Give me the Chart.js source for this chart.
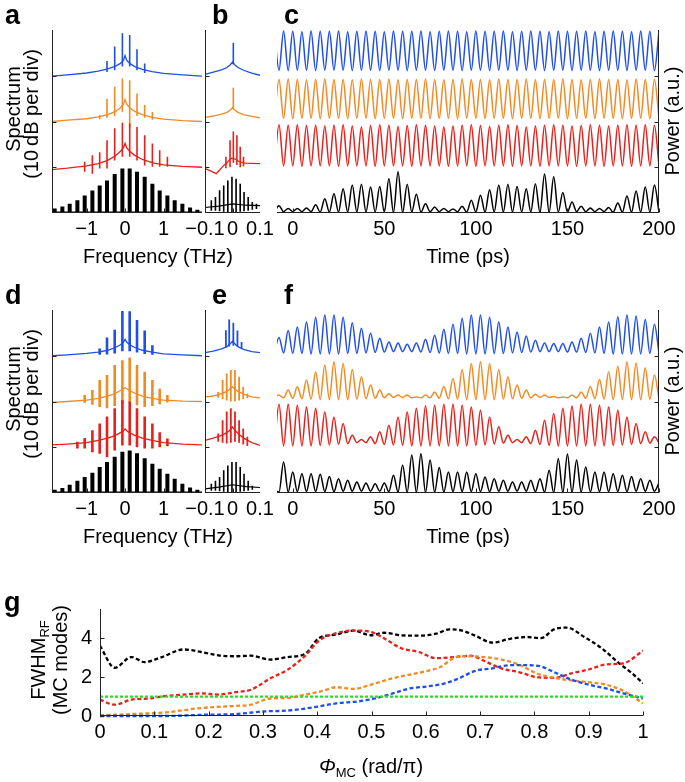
<!DOCTYPE html>
<html><head><meta charset="utf-8">
<script src="https://cdn.jsdelivr.net/npm/chart.js@4.4.0/dist/chart.umd.min.js"></script>
<style>
body{margin:0;width:685px;height:782px;background:#fff;position:relative;overflow:hidden;font-family:"Liberation Sans",Arial,sans-serif;}
canvas{position:absolute;}
.t{position:absolute;color:#000;white-space:nowrap;font-size:20px;line-height:20px;transform:translate(-50%,-50%);}
.r{transform:translate(-50%,-50%) rotate(-90deg);}
.L{position:absolute;font-weight:bold;font-size:27px;line-height:27px;color:#000;}
sub{font-size:13px;vertical-align:-4px;line-height:0;}
</style></head><body>
<script>
// ---------------- DATA ----------------
const F20 = [-1.83,-1.63,-1.44,-1.24,-1.05,-0.85,-0.66,-0.47,-0.27,-0.07,0.12,0.31,0.51,0.71,0.9,1.1,1.29,1.49,1.69,1.88];
const specF = [-1.9,-1.5,-1.0,-0.7,-0.45,-0.25,-0.12,-0.04,0,0.04,0.12,0.25,0.45,0.7,1.0,1.5,2.0];
const aTicks = [-1,0,1];
const bTicks = [-0.1,0,0.1];
const cTicks = [0,50,100,150,200];
const levelTicks = [1,2,3];

// panel a
const aBlueBase = [2.99,3.02,3.06,3.1,3.15,3.21,3.27,3.34,3.44,3.34,3.27,3.2,3.14,3.09,3.05,3.02,2.99];
const aBlueSpF = [-0.47,-0.27,-0.07,0.12,0.31,0.51];
const aBlueSpHi = [3.32,3.64,3.93,3.89,3.58,3.27];
const aBlueSpLo = [3.08,3.12,3.2,3.2,3.12,3.06];
const aOrBase = [2.0,2.03,2.06,2.1,2.15,2.22,2.3,2.38,2.48,2.38,2.3,2.22,2.15,2.09,2.05,2.02,2.0];
const aOrSpF = [-0.66,-0.47,-0.27,-0.07,0.12,0.31,0.51,0.71];
const aOrSpHi = [2.14,2.5,2.76,2.94,2.9,2.61,2.36,2.21];
const aOrSpLo = [2.05,2.08,2.12,2.2,1.87,2.12,2.08,2.04];
const aRedBase = [0.95,0.98,1.03,1.08,1.15,1.25,1.35,1.43,1.52,1.43,1.35,1.26,1.17,1.1,1.05,1.02,1.0];
const aRedSpF = [-1.05,-0.85,-0.66,-0.47,-0.27,-0.07,0.12,0.31,0.51,0.71,0.9,1.1];
const aRedSpHi = [1.12,1.26,1.33,1.59,1.85,1.97,1.96,1.88,1.7,1.52,1.37,1.23];
const aRedSpLo = [0.9,0.86,0.97,0.97,1.15,1.23,1.23,1.15,1.04,1.01,1.01,1.01];
const aBlackHi = [0.1,0.14,0.2,0.28,0.38,0.49,0.6,0.71,0.85,0.97,0.97,0.9,0.79,0.64,0.49,0.38,0.28,0.2,0.12,0.07];
const blackLo20 = [0.01,0.01,0.01,0.01,0.01,0.01,0.01,0.01,0.01,0.01,0.01,0.01,0.01,0.01,0.01,0.01,0.01,0.01,0.01,0.01];
const floorF = [-1.9,2.0];
const floorV = [0.02,0.02];

// panel d
const dBlueBase = [3.0,3.02,3.05,3.08,3.12,3.18,3.24,3.3,3.36,3.3,3.24,3.18,3.12,3.08,3.04,3.02,3.0];
const dBlueSpF = [-0.66,-0.47,-0.27,-0.07,0.12,0.31,0.51,0.71];
const dBlueSpHi = [3.16,3.40,3.57,3.98,3.97,3.78,3.55,3.23];
const dBlueSpLo = [3.02,3.03,3.05,3.1,3.1,3.07,3.04,3.02];
const dOrBase = [1.98,2.0,2.03,2.07,2.12,2.18,2.24,2.28,2.3,2.28,2.24,2.18,2.12,2.07,2.03,2.01,2.0];
const dOrSpF = [-1.05,-0.85,-0.66,-0.47,-0.27,-0.07,0.12,0.31,0.51,0.71,0.9,1.1];
const dOrSpHi = [2.14,2.25,2.47,2.58,2.8,2.9,2.96,2.8,2.65,2.47,2.28,2.14];
const dOrSpLo = [1.97,1.93,1.88,1.85,1.9,1.95,1.98,1.92,1.88,1.9,1.94,1.98];
const dRedBase = [1.05,1.07,1.1,1.15,1.2,1.26,1.32,1.36,1.4,1.36,1.32,1.26,1.2,1.15,1.1,1.07,1.05];
const dRedSpF = [-1.24,-1.05,-0.85,-0.66,-0.47,-0.27,-0.07,0.12,0.31,0.51,0.71,0.9,1.1];
const dRedSpHi = [1.12,1.2,1.37,1.52,1.67,1.85,2.03,2.0,1.85,1.67,1.52,1.33,1.19];
const dRedSpLo = [0.97,0.97,0.89,0.86,0.78,0.93,1.04,1.04,1.0,0.97,0.97,1.0,1.02];
const dBlackHi = [0.07,0.11,0.18,0.27,0.35,0.44,0.57,0.68,0.79,0.9,0.93,0.87,0.76,0.64,0.53,0.42,0.31,0.2,0.12,0.07];

// panels b & e (zoom, THz)
const bF = [-0.1,-0.07,-0.04,-0.02,-0.008,0,0.008,0.02,0.04,0.07,0.1];
const bBlueBase = [3.03,3.08,3.13,3.18,3.24,3.3,3.24,3.18,3.12,3.06,3.01];
const bOrBase = [2.09,2.12,2.16,2.2,2.25,2.3,2.25,2.2,2.15,2.11,2.08];
const bCenterF = [0.003];
const bBlueSpHi = [3.72], bBlueSpLo = [3.25];
const bOrSpHi = [2.74], bOrSpLo = [2.28];
const bRedF = [-0.1,-0.08,-0.059,-0.045,-0.032,-0.02,-0.005,0.01,0.025,0.046,0.07,0.1];
const bRedBase = [0.97,0.92,0.86,0.95,1.04,1.1,1.2,1.18,1.12,1.09,1.085,1.08];
const bRedSpF = [-0.024,-0.009,0.003,0.016,0.028,0.04];
const bRedSpHi = [1.23,1.59,1.78,1.7,1.45,1.23];
const bRedSpLo = [0.98,1.0,1.1,1.05,1.0,1.02];
const bBlackF = [-0.1,-0.05,0,0.05,0.1];
const bBlackFloor = [0.12,0.15,0.2,0.17,0.16];
const bBlackSpF = [-0.077,-0.062,-0.047,-0.032,-0.017,-0.002,0.013,0.028,0.042,0.057,0.072,0.087];
const bBlackSpHi = [0.28,0.35,0.5,0.6,0.71,0.79,0.75,0.64,0.46,0.35,0.24,0.2];
const bBlackSpLo = [0.05,0.05,0.04,0.03,0.02,0.02,0.02,0.03,0.04,0.05,0.07,0.09];

const eBlueBase = [3.07,3.1,3.15,3.2,3.26,3.32,3.26,3.2,3.14,3.09,3.07];
const eBlueSpF = [-0.024,-0.012,0.003,0.018,0.033];
const eBlueSpHi = [3.56,3.79,3.72,3.55,3.3];
const eBlueSpLo = [3.18,3.2,3.22,3.2,3.15];
const eSpF = [-0.052,-0.036,-0.021,-0.006,0.009,0.024,0.039,0.054];
const eOrBase = [2.1,2.12,2.17,2.22,2.28,2.32,2.28,2.22,2.16,2.1,2.08];
const eOrSpHi = [2.21,2.47,2.61,2.69,2.69,2.54,2.32,2.17];
const eOrSpLo = [2.08,2.05,2.02,2.0,2.0,2.02,2.05,2.07];
const eRedBase = [1.15,1.2,1.26,1.32,1.38,1.44,1.38,1.3,1.2,1.1,1.04];
const eRedSpHi = [1.3,1.59,1.78,1.85,1.78,1.59,1.41,1.23];
const eRedSpLo = [1.12,1.1,1.08,1.1,1.12,1.1,1.06,1.03];
const eBlackFloor = [0.09,0.13,0.18,0.14,0.12];
const eBlackSpHi = [0.2,0.27,0.35,0.5,0.6,0.68,0.68,0.57,0.42,0.27,0.16,0.09];

// time traces (ps) – peaks and troughs
const tGrid = [-10,-7.5,-5,-2.5,0,2.5,5,7.5,10,12.5,
15,17.5,20,22.5,25,27.5,30,32.5,35,37.5,
40,42.5,45,47.5,50,52.5,55,57.5,60,62.5,
65,67.5,70,72.5,75,77.5,80,82.5,85,87.5,
90,92.5,95,97.5,100,102.5,105,107.5,110,112.5,
115,117.5,120,122.5,125,127.5,130,132.5,135,137.5,
140,142.5,145,147.5,150,152.5,155,157.5,160,162.5,
165,167.5,170,172.5,175,177.5,180,182.5,185,187.5,
190,192.5,195,197.5,200];

const cBlue = [3.97,3.12,3.98,3.11,3.97,3.12,3.96,3.12,3.98,3.11,
3.97,3.12,3.97,3.12,3.98,3.12,3.96,3.11,3.97,3.12,
3.98,3.12,3.97,3.11,3.96,3.12,3.98,3.12,3.97,3.11,
3.97,3.12,3.98,3.12,3.96,3.11,3.97,3.12,3.98,3.12,
3.97,3.11,3.96,3.12,3.98,3.12,3.97,3.11,3.97,3.12,
3.98,3.12,3.96,3.11,3.97,3.12,3.98,3.12,3.97,3.11,
3.96,3.12,3.98,3.12,3.97,3.11,3.97,3.12,3.98,3.12,
3.96,3.11,3.97,3.12,3.98,3.12,3.97,3.11,3.96,3.12,
3.98,3.12,3.97,3.11,3.97];
const cOrange = [2.07,2.92,2.07,2.93,2.06,2.92,2.07,2.91,2.07,2.92,
2.06,2.93,2.07,2.92,2.07,2.92,2.06,2.91,2.07,2.93,
2.07,2.92,2.06,2.92,2.07,2.93,2.07,2.91,2.06,2.92,
2.07,2.92,2.07,2.93,2.06,2.92,2.07,2.91,2.07,2.92,
2.06,2.93,2.07,2.92,2.07,2.92,2.06,2.91,2.07,2.93,
2.07,2.92,2.06,2.92,2.07,2.93,2.07,2.91,2.06,2.92,
2.07,2.92,2.07,2.93,2.06,2.92,2.07,2.91,2.07,2.92,
2.06,2.93,2.07,2.92,2.07,2.92,2.06,2.91,2.07,2.93,
2.07,2.92,2.06,2.92,2.07];
const cRed = [1.03,1.93,1.03,1.92,1.03,1.93,1.02,1.91,1.03,1.92,
1.03,1.9,1.03,1.92,1.02,1.93,1.03,1.9,1.03,1.88,
1.03,1.91,1.02,1.93,1.03,1.92,1.03,1.89,1.03,1.91,
1.02,1.93,1.03,1.92,1.03,1.9,1.03,1.88,1.02,1.9,
1.03,1.92,1.03,1.93,1.02,1.91,1.03,1.89,1.03,1.92,
1.03,1.93,1.02,1.91,1.03,1.88,1.03,1.9,1.02,1.92,
1.03,1.93,1.03,1.92,1.03,1.9,1.02,1.91,1.03,1.93,
1.03,1.92,1.02,1.9,1.03,1.92,1.03,1.93,1.02,1.92,
1.03,1.93,1.03,1.92,1.03];
const cBlack = [0.03,0.16,0.03,0.1,0.03,0.1,0.03,0.11,0.03,0.18,
0.02,0.31,0.02,0.42,0.02,0.53,0.02,0.61,0.02,0.63,
0.02,0.57,0.02,0.58,0.02,0.75,0.01,0.9,0.01,0.63,
0.02,0.41,0.02,0.2,0.03,0.13,0.03,0.1,0.03,0.09,
0.03,0.15,0.02,0.28,0.02,0.39,0.02,0.51,0.02,0.61,
0.02,0.63,0.02,0.58,0.02,0.53,0.02,0.64,0.01,0.85,
0.01,0.79,0.02,0.45,0.02,0.24,0.03,0.15,0.03,0.11,
0.03,0.1,0.03,0.12,0.02,0.22,0.02,0.37,0.02,0.48,
0.02,0.57,0.02,0.61,0.02];

const fBlue = [3.08,3.40,3.06,3.55,3.05,3.63,3.05,3.74,3.04,3.84,
3.04,3.89,3.04,3.89,3.04,3.84,3.05,3.72,3.05,3.60,
3.06,3.49,3.07,3.38,3.08,3.30,3.09,3.28,3.09,3.25,
3.09,3.28,3.08,3.36,3.07,3.45,3.06,3.58,3.05,3.69,
3.05,3.82,3.04,3.89,3.04,3.89,3.04,3.84,3.05,3.74,
3.05,3.63,3.06,3.52,3.07,3.43,3.08,3.34,3.09,3.28,
3.09,3.27,3.09,3.27,3.08,3.30,3.08,3.38,3.07,3.49,
3.06,3.63,3.05,3.74,3.04,3.85,3.04,3.89,3.04,3.87,
3.04,3.79,3.05,3.69,3.05];
const fOrange = [2.1,2.14,2.08,2.25,2.07,2.32,2.06,2.47,2.05,2.65,
2.04,2.79,2.04,2.87,2.04,2.83,2.04,2.70,2.05,2.54,
2.06,2.36,2.07,2.25,2.08,2.17,2.09,2.14,2.09,2.14,
2.08,2.10,2.08,2.14,2.08,2.21,2.07,2.33,2.06,2.50,
2.05,2.70,2.04,2.83,2.04,2.87,2.04,2.83,2.04,2.70,
2.05,2.54,2.06,2.36,2.07,2.25,2.08,2.16,2.09,2.14,
2.09,2.11,2.08,2.10,2.08,2.14,2.08,2.21,2.07,2.33,
2.06,2.48,2.05,2.65,2.04,2.77,2.04,2.87,2.04,2.84,
2.04,2.74,2.05,2.58,2.06];
const fRed = [1.03,1.94,1.03,1.94,1.03,1.92,1.03,1.88,1.03,1.85,
1.04,1.77,1.05,1.66,1.06,1.52,1.08,1.26,1.1,1.17,
1.1,1.23,1.08,1.34,1.06,1.48,1.05,1.66,1.04,1.77,
1.03,1.85,1.03,1.90,1.03,1.92,1.03,1.94,1.03,1.94,
1.03,1.92,1.03,1.88,1.04,1.81,1.05,1.66,1.07,1.45,
1.09,1.26,1.1,1.17,1.1,1.23,1.08,1.37,1.06,1.59,
1.04,1.74,1.03,1.85,1.03,1.90,1.03,1.94,1.03,1.94,
1.03,1.92,1.03,1.88,1.04,1.81,1.05,1.66,1.06,1.52,
1.08,1.34,1.09,1.23,1.1];
const fBlack = [0.05,0.02,0.68,0.02,0.46,0.03,0.42,0.03,0.42,0.03,
0.41,0.03,0.36,0.03,0.31,0.04,0.28,0.04,0.24,0.04,
0.22,0.04,0.20,0.04,0.22,0.03,0.39,0.02,0.61,0.01,
0.83,0.01,0.86,0.01,0.72,0.02,0.56,0.02,0.46,0.03,
0.46,0.03,0.46,0.03,0.42,0.03,0.35,0.03,0.31,0.04,
0.28,0.04,0.24,0.04,0.24,0.04,0.28,0.03,0.31,0.02,
0.50,0.01,0.75,0.01,0.85,0.01,0.72,0.02,0.57,0.02,
0.46,0.03,0.46,0.03,0.42,0.03,0.39,0.03,0.36,0.04,
0.31,0.04,0.28,0.04,0.22];

// panel g
const gTicksX = [0,0.1,0.2,0.3,0.4,0.5,0.6,0.7,0.8,0.9,1];
const gTicksY = [0,2,4];
const gBlackPhi = [0,0.027,0.058,0.082,0.114,0.154,0.186,0.218,0.25,0.278,0.314,0.346,0.378,0.403,0.435,0.467,0.499,0.523,0.555,0.587,0.619,0.643,0.667,0.691,0.723,0.755,0.787,0.812,0.836,0.86,0.892,0.924,0.956,0.98,1.0];
const gBlackV = [3.61,2.48,3.03,2.77,3.03,3.42,3.29,3.12,3.07,3.1,2.9,3.03,3.2,4.0,4.19,4.39,4.15,4.28,4.15,4.13,4.23,4.45,4.39,4.13,3.77,3.97,4.06,4.0,4.45,4.54,4.06,3.48,2.71,2.19,1.68];
const gRedPhi = [0,0.027,0.058,0.09,0.122,0.154,0.186,0.218,0.25,0.278,0.314,0.346,0.378,0.403,0.435,0.467,0.499,0.523,0.555,0.587,0.619,0.651,0.683,0.707,0.739,0.771,0.804,0.836,0.868,0.9,0.932,0.964,1.0];
const gRedV = [0.84,0.58,0.84,0.9,1.03,1.1,1.16,1.1,1.23,1.35,1.94,2.39,3.1,3.87,4.26,4.39,4.32,4.0,3.48,3.29,2.97,3.03,3.1,2.84,2.45,2.26,2.0,1.96,2.19,2.39,2.65,2.71,3.35];
const gOrangePhi = [0,0.058,0.122,0.186,0.25,0.278,0.314,0.346,0.378,0.41,0.435,0.467,0.499,0.539,0.571,0.603,0.627,0.651,0.675,0.707,0.739,0.771,0.804,0.836,0.868,0.9,0.932,0.964,1.0];
const gOrangeV = [0.03,0.1,0.19,0.41,0.52,0.58,0.9,0.93,1.1,1.29,1.48,1.39,1.61,1.94,2.13,2.32,2.52,2.97,3.07,3.03,2.9,2.65,2.19,1.96,1.83,1.74,1.61,1.29,0.65];
const gBluePhi = [0,0.122,0.186,0.25,0.298,0.346,0.394,0.435,0.475,0.507,0.539,0.571,0.603,0.635,0.659,0.691,0.723,0.755,0.787,0.812,0.836,0.868,0.9,0.932,0.964,1.0];
const gBlueV = [0,0,0.06,0.1,0.23,0.28,0.45,0.65,0.75,0.9,1.16,1.42,1.52,1.68,1.91,2.32,2.45,2.61,2.61,2.55,2.26,1.87,1.61,1.42,1.16,0.9];
const gGreenPhi = [0,1];
const gGreenV = [1,1];

// ---------------- DRAWING ----------------
Chart.defaults.font.family = '"Liberation Sans", Arial, sans-serif';
Chart.defaults.color = '#000';
const COL = {blue:'#1f4fe8', orange:'#f28a24', red:'#e8201c', black:'#000000', green:'#22e022'};

const framePlugin = {id:'frame', afterDatasetsDraw(chart, args, o){
  const ctx = chart.ctx, a = chart.chartArea, x = chart.scales.x, y = chart.scales.y;
  ctx.save(); ctx.strokeStyle = o.color || '#222'; ctx.lineWidth = 1; ctx.beginPath();
  const L = Math.round(a.left)+0.5, R = Math.round(a.right)-0.5, B = Math.round(a.bottom)-0.5;
  if (o.left){ ctx.moveTo(L, a.top); ctx.lineTo(L, a.bottom); }
  if (o.right){ ctx.moveTo(R, a.top); ctx.lineTo(R, a.bottom); }
  if (o.bottom){ ctx.moveTo(a.left, B); ctx.lineTo(a.right, B); }
  (o.yt||[]).forEach(v => { const py = Math.round(y.getPixelForValue(v))+0.5;
    if (o.left){ ctx.moveTo(L, py); ctx.lineTo(L+4, py); }
    if (o.right){ ctx.moveTo(R, py); ctx.lineTo(R-4, py); } });
  (o.xt||[]).forEach(v => { const px = Math.round(x.getPixelForValue(v))+0.5;
    ctx.moveTo(px, B); ctx.lineTo(px, B-4); });
  ctx.stroke(); ctx.restore();
}};

function pts(xs, ys){ return xs.map((x,i)=>({x:x, y:ys[i]})); }
function spk(xs, lo, hi){ const d=[]; xs.forEach((x,i)=>{ d.push({x:x,y:lo[i]},{x:x,y:hi[i]},{x:x,y:null}); }); return d; }
function ds(data, color, w, extra){ return Object.assign({data:data, borderColor:color, borderWidth:w, pointRadius:0, tension:0, spanGaps:false, fill:false, borderCapStyle:'butt', clip:{left:0,right:0,top:3,bottom:3}}, extra||{}); }
function wave(ys, color){ return ds(pts(tGrid, ys), color, 1.5, {cubicInterpolationMode:'monotone'}); }
function fmt(v){ return (v<0?'\u2212':'') + Math.abs(v); }

function panel(area, xmin, xmax, xticks, ymax, datasets, frame, yopts){
  const ML = yopts ? yopts.ml : 30, MR = 30, MT = 4, MB = 40;
  const W = area.r - area.l + ML + MR, H = area.b - area.t + MT + MB;
  const cv = document.createElement('canvas');
  cv.width = W; cv.height = H;
  cv.style.left = (area.l - ML) + 'px'; cv.style.top = (area.t - MT) + 'px';
  cv.style.width = W + 'px'; cv.style.height = H + 'px';
  document.body.appendChild(cv);
  const yAxis = yopts ? {type:'linear', min:0, max:ymax, display:true,
      grid:{display:false, drawTicks:false}, border:{display:false},
      ticks:{font:{size:20}, padding:8, callback:fmt},
      afterBuildTicks(s){ s.ticks = yopts.ticks.map(v=>({value:v})); },
      afterFit(s){ s.width = yopts.w; s.paddingTop = 0; s.paddingBottom = 0; }}
    : {type:'linear', min:0, max:ymax, display:false};
  return new Chart(cv, {type:'line', data:{datasets:datasets}, plugins:[framePlugin], options:{
    responsive:false, animation:false, events:[], devicePixelRatio:1,
    layout:{padding:{left: yopts ? ML - yopts.w : ML, right:MR, top:MT, bottom:0}},
    plugins:{legend:{display:false}, tooltip:{enabled:false}, frame:frame},
    scales:{
      x:{type:'linear', min:xmin, max:xmax, offset:false,
         grid:{display:false, drawTicks:false}, border:{display:false},
         ticks:{font:{size:20}, padding:4, maxRotation:0, autoSkip:false, callback:fmt},
         afterBuildTicks(s){ s.ticks = xticks.map(v=>({value:v})); },
         afterFit(s){ s.height = MB; s.paddingLeft = 0; s.paddingRight = 0; }},
      y: yAxis
    }}});
}

const ROW2 = 280;
const A = {l:52, r:202, t:30, b:213}, Bp = {l:205, r:260, t:30, b:213}, Cp = {l:277, r:659, t:30, b:213};
function sh(p){ return {l:p.l, r:p.r, t:p.t+ROW2, b:p.b+ROW2}; }

// a
panel(A, -1.9, 2.0, aTicks, 4, [
  ds(pts(floorF, floorV), COL.black, 1.2),
  ds(spk(F20, blackLo20, aBlackHi), COL.black, 4),
  ds(pts(specF, aRedBase), COL.red, 1.3),
  ds(spk(aRedSpF, aRedSpLo, aRedSpHi), COL.red, 1.6),
  ds(pts(specF, aOrBase), COL.orange, 1.3),
  ds(spk(aOrSpF, aOrSpLo, aOrSpHi), COL.orange, 1.6),
  ds(pts(specF, aBlueBase), COL.blue, 1.3),
  ds(spk(aBlueSpF, aBlueSpLo, aBlueSpHi), COL.blue, 1.6)
], {left:true, bottom:true, yt:levelTicks, xt:aTicks});
// b
panel(Bp, -0.1, 0.1, bTicks, 4, [
  ds(pts(bBlackF, bBlackFloor), COL.black, 1.2),
  ds(spk(bBlackSpF, bBlackSpLo, bBlackSpHi), COL.black, 1.6),
  ds(pts(bRedF, bRedBase), COL.red, 1.3),
  ds(spk(bRedSpF, bRedSpLo, bRedSpHi), COL.red, 1.6),
  ds(pts(bF, bOrBase), COL.orange, 1.3),
  ds(spk(bCenterF, bOrSpLo, bOrSpHi), COL.orange, 1.6),
  ds(pts(bF, bBlueBase), COL.blue, 1.3),
  ds(spk(bCenterF, bBlueSpLo, bBlueSpHi), COL.blue, 1.6)
], {left:true, bottom:true, yt:levelTicks, xt:[0]});
// c
panel(Cp, -8.6, 200, cTicks, 4, [
  wave(cBlack, COL.black), wave(cRed, COL.red), wave(cOrange, COL.orange), wave(cBlue, COL.blue)
], {right:true, bottom:true, yt:levelTicks, xt:cTicks});
// d
panel(sh(A), -1.9, 2.0, aTicks, 4, [
  ds(pts(floorF, floorV), COL.black, 1.2),
  ds(spk(F20, blackLo20, dBlackHi), COL.black, 4),
  ds(pts(specF, dRedBase), COL.red, 1.3),
  ds(spk(dRedSpF, dRedSpLo, dRedSpHi), COL.red, 2.6),
  ds(pts(specF, dOrBase), COL.orange, 1.3),
  ds(spk(dOrSpF, dOrSpLo, dOrSpHi), COL.orange, 2.6),
  ds(pts(specF, dBlueBase), COL.blue, 1.3),
  ds(spk(dBlueSpF, dBlueSpLo, dBlueSpHi), COL.blue, 2.6)
], {left:true, bottom:true, yt:levelTicks, xt:aTicks});
// e
panel(sh(Bp), -0.1, 0.1, bTicks, 4, [
  ds(pts(bBlackF, eBlackFloor), COL.black, 1.2),
  ds(spk(bBlackSpF, bBlackSpLo, eBlackSpHi), COL.black, 1.6),
  ds(pts(bF, eRedBase), COL.red, 1.3),
  ds(spk(eSpF, eRedSpLo, eRedSpHi), COL.red, 1.8),
  ds(pts(bF, eOrBase), COL.orange, 1.3),
  ds(spk(eSpF, eOrSpLo, eOrSpHi), COL.orange, 1.8),
  ds(pts(bF, eBlueBase), COL.blue, 1.3),
  ds(spk(eBlueSpF, eBlueSpLo, eBlueSpHi), COL.blue, 1.8)
], {left:true, bottom:true, yt:levelTicks, xt:[0]});
// f
panel(sh(Cp), -8.6, 200, cTicks, 4, [
  wave(fBlack, COL.black), wave(fRed, COL.red), wave(fOrange, COL.orange), wave(fBlue, COL.blue)
], {right:true, bottom:true, yt:levelTicks, xt:cTicks});
// g
const gDash = {borderDash:[4,2.5], cubicInterpolationMode:'monotone'};
panel({l:100, r:643, t:609, b:716}, 0, 1, gTicksX, 5.5, [
  ds(pts(gGreenPhi, gGreenV), COL.green, 2.2, {borderDash:[3,2]}),
  ds(pts(gBluePhi, gBlueV), COL.blue, 2.3, gDash),
  ds(pts(gOrangePhi, gOrangeV), COL.orange, 2.3, gDash),
  ds(pts(gRedPhi, gRedV), COL.red, 2.3, gDash),
  ds(pts(gBlackPhi, gBlackV), COL.black, 2.3, gDash)
], {left:true, bottom:true, yt:gTicksY, xt:gTicksX}, {ml:40, w:30, ticks:gTicksY});

// ---------------- TEXT ----------------
function txt(html, cx, cy, cls, style){
  const d = document.createElement('div'); d.className = 't' + (cls ? ' ' + cls : '');
  d.innerHTML = html; d.style.left = cx + 'px'; d.style.top = cy + 'px';
  if (style) d.style.cssText += style; document.body.appendChild(d);
}
function letter(ch, x, y){ const d = document.createElement('div'); d.className = 'L'; d.textContent = ch; d.style.left = x+'px'; d.style.top = y+'px'; document.body.appendChild(d); }
[0, ROW2].forEach(o => {
  txt('Spectrum', 12.5, 109 + o, 'r');
  txt('(10&thinsp;dB per div)', 31, 114 + o, 'r');
  txt('Frequency (THz)', 158, 256 + o);
  txt('Time (ps)', 468, 256 + o);
  txt('Power (a.u.)', 672, 121 + o, 'r');
});
letter('a', 5, 2); letter('b', 212, 2); letter('c', 284, 2);
letter('d', 5, 282); letter('e', 212, 282); letter('f', 284, 282);
letter('g', 4, 589);
txt('FWHM<sub>RF</sub>', 38, 660, 'r');
txt('(MC modes)', 60, 660, 'r');
txt('<i>&Phi;</i><sub>MC</sub> (rad/&pi;)', 371, 766);
</script>
</body></html>
